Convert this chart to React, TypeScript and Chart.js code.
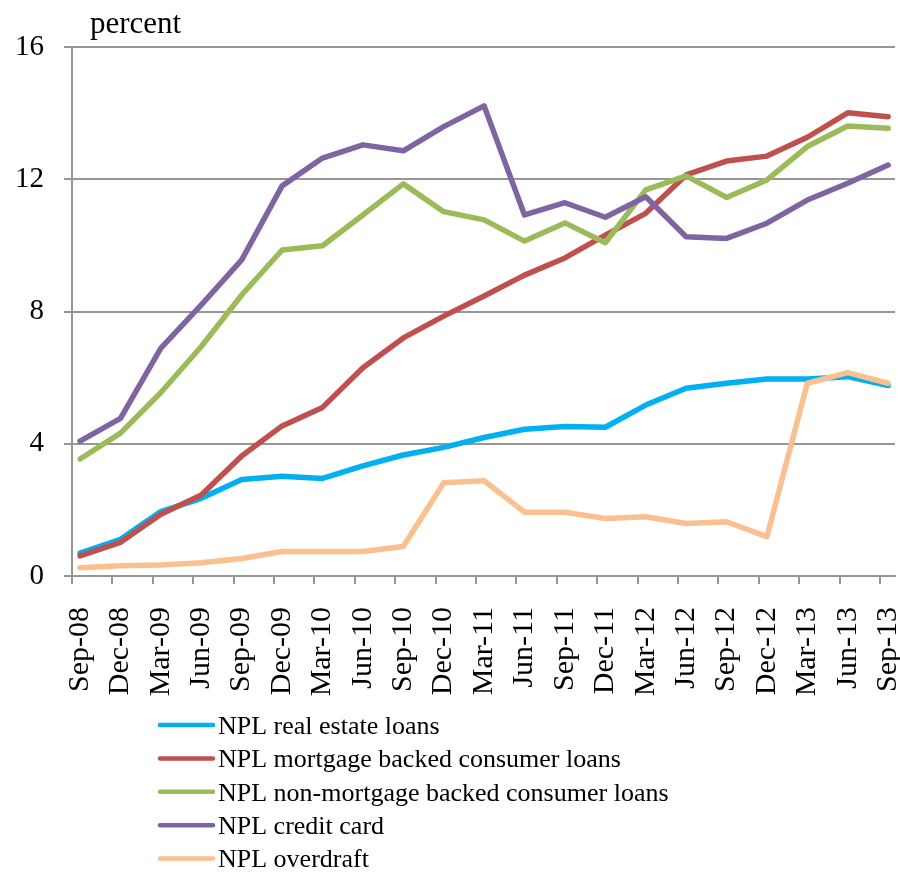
import { useEffect, useRef } from 'react';
import { Chart, registerables } from 'chart.js';

Chart.register(...registerables);

const categories = [
  'Sep-08', 'Dec-08', 'Mar-09', 'Jun-09', 'Sep-09', 'Dec-09', 'Mar-10', 'Jun-10', 'Sep-10', 'Dec-10',
  'Mar-11', 'Jun-11', 'Sep-11', 'Dec-11', 'Mar-12', 'Jun-12', 'Sep-12', 'Dec-12', 'Mar-13', 'Jun-13', 'Sep-13',
];

const realEstate = [0.69, 1.11, 1.95, 2.35, 2.92, 3.02, 2.95, 3.33, 3.66, 3.89, 4.19, 4.44, 4.52, 4.5, 5.17, 5.68, 5.83, 5.96, 5.96, 6.03, 5.76];
const mortgageBacked = [0.61, 1.02, 1.87, 2.45, 3.63, 4.54, 5.1, 6.3, 7.2, 7.86, 8.47, 9.1, 9.62, 10.31, 10.97, 12.13, 12.55, 12.7, 13.27, 14.01, 13.89];
const nonMortgageBacked = [3.54, 4.32, 5.55, 6.94, 8.5, 9.86, 9.99, 10.92, 11.86, 11.02, 10.77, 10.13, 10.68, 10.08, 11.68, 12.1, 11.45, 11.98, 12.99, 13.61, 13.54];
const creditCard = [4.08, 4.77, 6.89, 8.2, 9.56, 11.8, 12.64, 13.04, 12.86, 13.59, 14.22, 10.92, 11.29, 10.85, 11.47, 10.26, 10.21, 10.67, 11.37, 11.88, 12.43];
const overdraft = [0.25, 0.31, 0.33, 0.4, 0.53, 0.74, 0.74, 0.74, 0.89, 2.82, 2.88, 1.93, 1.93, 1.74, 1.79, 1.59, 1.64, 1.19, 5.83, 6.15, 5.83];

const seriesNames = [
  'NPL real estate loans',
  'NPL mortgage backed consumer loans',
  'NPL non-mortgage backed consumer loans',
  'NPL credit card',
  'NPL overdraft',
];
const seriesValues = [realEstate, mortgageBacked, nonMortgageBacked, creditCard, overdraft];
const seriesColors = ['#00B0F0', '#C0504D', '#9BBB59', '#8064A2', '#FAC090'];

const yTicks = [0, 4, 8, 12, 16];
const yTitle = 'percent';

const FONT = "'Liberation Serif', 'Times New Roman', serif";
const GRID = '#969696';

const overlayPlugin = {
  id: 'overlay',
  afterDraw(chart: any) {
    const ctx = chart.ctx;
    const area = chart.chartArea;
    ctx.save();
    ctx.fillStyle = '#000';
    ctx.textAlign = 'left';
    ctx.textBaseline = 'alphabetic';
    ctx.font = `31px ${FONT}`;
    ctx.fillText(yTitle, area.left + 18, 33);

    const lx = 160;
    const ly = 725;
    const lh = 33.4;
    chart.data.datasets.forEach((ds: any, i: number) => {
      const y = ly + i * lh;
      ctx.strokeStyle = ds.borderColor;
      ctx.lineWidth = 4.5;
      ctx.lineCap = 'round';
      ctx.beginPath();
      ctx.moveTo(lx, y);
      ctx.lineTo(lx + 53, y);
      ctx.stroke();
      ctx.font = `26px ${FONT}`;
      ctx.textBaseline = 'middle';
      ctx.fillStyle = '#000';
      ctx.fillText(ds.label, lx + 58, y + 2);
    });
    ctx.restore();
  },
};

export default function App() {
  const canvasRef = useRef<HTMLCanvasElement | null>(null);

  useEffect(() => {
    if (!canvasRef.current) return;
    const chart = new Chart(canvasRef.current, {
      type: 'line',
      data: {
        datasets: seriesValues.map((vals, i) => ({
          label: seriesNames[i],
          data: vals.map((v, k) => ({ x: k, y: v })),
          borderColor: seriesColors[i],
          backgroundColor: seriesColors[i],
          borderWidth: 5.5,
          pointRadius: 0,
          tension: 0,
          fill: false,
          borderJoinStyle: 'round',
          borderCapStyle: 'round',
          order: seriesValues.length - i,
        })),
      },
      options: {
        animation: false,
        responsive: false,
        devicePixelRatio: 1,
        layout: { padding: { left: 0, top: 47, right: 5, bottom: 0 } },
        plugins: {
          legend: { display: false },
          tooltip: { enabled: false },
          title: { display: false },
        },
        scales: {
          x: {
            type: 'linear',
            min: -0.2,
            max: 20.17,
            afterBuildTicks: (s: any) => {
              s.ticks = categories.map((_, i) => ({ value: i - 0.2 }));
            },
            afterFit: (s: any) => {
              s.height = 296;
              s.paddingLeft = 0;
              s.paddingRight = 0;
            },
            ticks: {
              autoSkip: false,
              maxRotation: 90,
              minRotation: 90,
              labelOffset: 8,
              padding: 23,
              color: '#000',
              font: { family: FONT, size: 30 },
              callback: (_v: any, i: number) => categories[i],
            },
            grid: { drawOnChartArea: false, drawTicks: true, tickLength: 8, color: GRID, lineWidth: 2 },
            border: { color: GRID, width: 2 },
          },
          y: {
            min: 0,
            max: 16,
            afterBuildTicks: (s: any) => {
              s.ticks = yTicks.map((v) => ({ value: v }));
            },
            afterFit: (s: any) => {
              s.width = 72;
              s.paddingTop = 0;
              s.paddingBottom = 0;
            },
            ticks: {
              padding: 20,
              color: '#000',
              font: { family: FONT, size: 29 },
            },
            grid: { color: GRID, lineWidth: 2, tickLength: 8 },
            border: { color: GRID, width: 2 },
          },
        },
      },
      plugins: [overlayPlugin],
    } as any);
    return () => chart.destroy();
  }, []);

  return (
    <div style={{ position: 'absolute', left: 0, top: 0, width: 900, height: 872, background: '#fff' }}>
      <canvas ref={canvasRef} width={900} height={872} style={{ width: 900, height: 872 }} />
    </div>
  );
}
